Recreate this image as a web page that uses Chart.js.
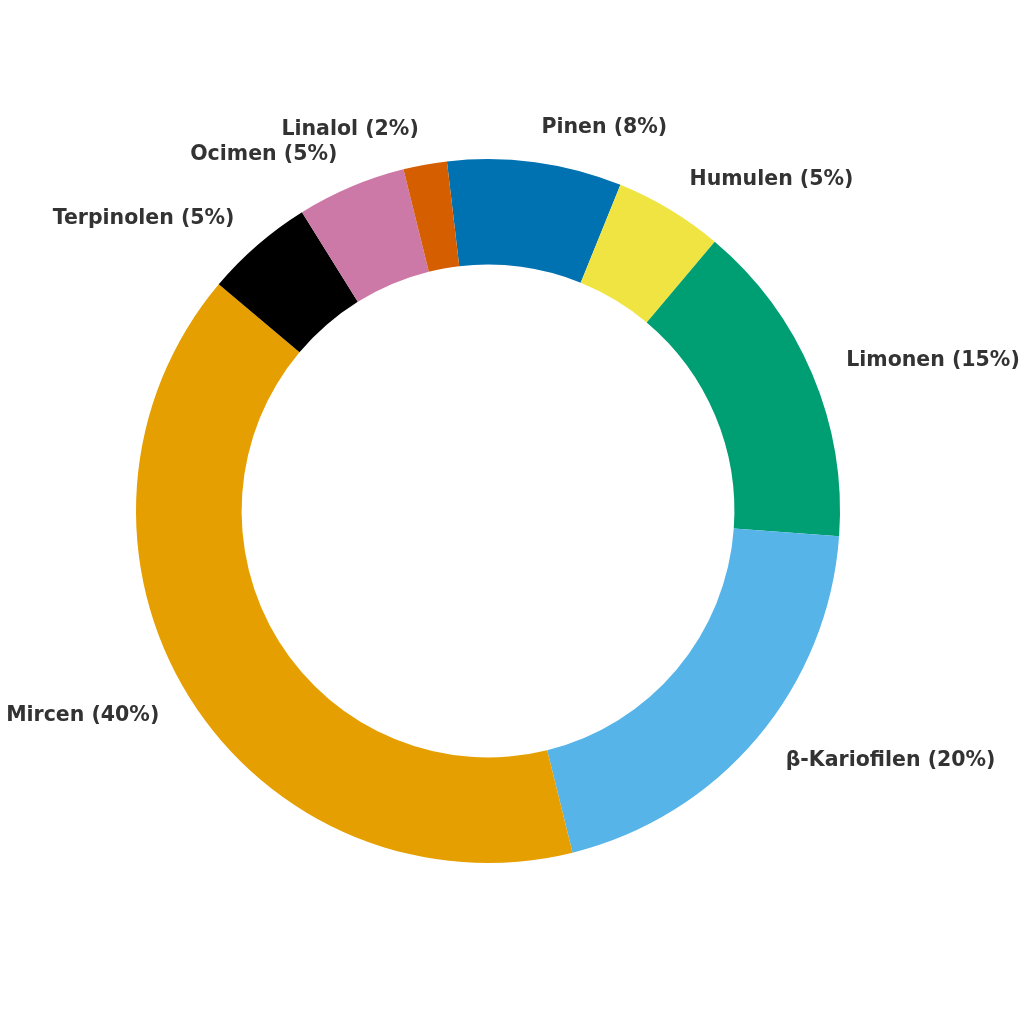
<!DOCTYPE html>
<html>
<head>
<meta charset="utf-8">
<script src="https://cdn.jsdelivr.net/npm/chart.js@4.4.1/dist/chart.umd.min.js"></script>
<style>
html,body{margin:0;padding:0;background:#fff;}
#wrap{width:1024px;height:1024px;position:relative;}
</style>
</head>
<body>
<div id="wrap"><canvas id="c" width="1024" height="1024"></canvas></div>
<script>
const categories = ["Pinen", "Humulen", "Limonen", "β-Kariofilen", "Mircen", "Terpinolen", "Ocimen", "Linalol"];
const values = [8, 5, 15, 20, 40, 5, 5, 2];
const colors = ["#0072B2", "#F0E442", "#009E73", "#56B4E9", "#E69F00", "#000000", "#CC79A7", "#D55E00"];

const outsideLabels = {
  id: 'outsideLabels',
  afterDatasetsDraw(chart) {
    const ctx = chart.ctx;
    const meta = chart.getDatasetMeta(0);
    const total = values.reduce((a, b) => a + b, 0);
    ctx.save();
    ctx.font = 'bold 20.5px "DejaVu Sans"';
    ctx.fillStyle = '#333333';
    ctx.textBaseline = 'middle';
    meta.data.forEach((arc, i) => {
      const p = arc.getProps(['x', 'y', 'startAngle', 'endAngle', 'outerRadius'], true);
      const mid = (p.startAngle + p.endAngle) / 2;
      const r = p.outerRadius * 1.1;
      const x = p.x + r * Math.cos(mid);
      const y = p.y + r * Math.sin(mid);
      ctx.textAlign = Math.cos(mid) >= 0 ? 'left' : 'right';
      const pct = Math.round(values[i] / total * 100);
      ctx.fillText(categories[i] + ' (' + pct + '%)', x + (Math.cos(mid) >= 0 ? 1.5 : 0), y);
    });
    ctx.restore();
  }
};

new Chart(document.getElementById('c'), {
  type: 'doughnut',
  data: {
    labels: categories,
    datasets: [{
      data: values,
      backgroundColor: colors,
      borderWidth: 0
    }]
  },
  options: {
    responsive: false,
    animation: false,
    rotation: -6.7,
    cutout: '70%',
    layout: { padding: { left: 136, right: 184, top: 159, bottom: 161 } },
    plugins: {
      legend: { display: false },
      tooltip: { enabled: false }
    }
  },
  plugins: [outsideLabels]
});
</script>
</body>
</html>
